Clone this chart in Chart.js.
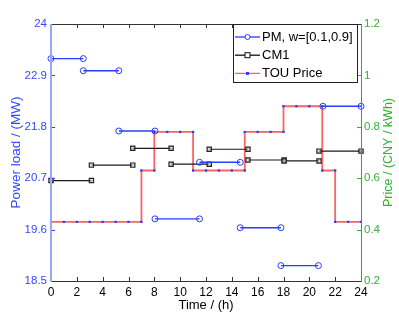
<!DOCTYPE html>
<html><head><meta charset="utf-8">
<script src="https://cdn.jsdelivr.net/npm/chart.js@4/dist/chart.umd.min.js"></script>
<style>html,body{margin:0;padding:0;background:#fff}#wrap{width:399px;height:316px}</style>
</head><body><div id="wrap"><canvas id="c" width="399" height="316"></canvas></div>
<script>
// ---- data ----
const hourTicks = [0,2,4,6,8,10,12,14,16,18,20,22,24];
const loadTicks = [18.5,19.6,20.7,21.8,22.9,24];
const priceTicks = [0.2,0.4,0.6,0.8,1,1.2];

const pmStart = [0, 2.5, 5.25, 8.05, 11.5, 14.65, 17.8, 21.05];
const pmEnd   = [2.5, 5.25, 8.05, 11.5, 14.65, 17.8, 20.7, 24];
const pmLoad  = [23.26, 23.0, 21.71, 19.83, 21.04, 19.64, 18.83, 22.24];

const cmStart = [0, 3.13, 6.33, 9.3, 12.25, 15.25, 18.05, 20.75];
const cmEnd   = [3.13, 6.33, 9.3, 12.25, 15.25, 18.05, 20.75, 24];
const cmLoad  = [20.65, 20.98, 21.34, 21.0, 21.32, 21.09, 21.07, 21.28];

const touHours = [0,1,2,3,4,5,6,7,7,8,8,9,10,11,11,12,13,14,15,15,16,17,18,18,19,20,21,21,22,22,23,24];
const touPrice = [0.43,0.43,0.43,0.43,0.43,0.43,0.43,0.43,0.63,0.63,0.78,0.78,0.78,0.78,0.63,0.63,0.63,0.63,0.63,0.78,0.78,0.78,0.78,0.88,0.88,0.88,0.88,0.63,0.63,0.43,0.43,0.43];

function segs(starts, ends, vals){
  const out = [];
  for (let i=0;i<starts.length;i++){
    out.push({x:starts[i], y:vals[i]});
    out.push({x:ends[i], y:vals[i]});
    out.push({x:ends[i], y:null});
  }
  return out;
}

const FONT = "'Liberation Sans', Arial, sans-serif";
const BLUE = '#2a3cff';
const BLUE_TXT = '#3347ff';
const GREEN = '#35b035';

const deco = {
  id:'deco',
  afterDraw(chart){
    const {ctx, chartArea:a, scales} = chart;
    ctx.save();
    // ticks
    ctx.lineWidth = 1;
    ctx.strokeStyle = '#333';
    hourTicks.forEach(h=>{
      const x = Math.round(scales.x.getPixelForValue(h))+0.5;
      ctx.beginPath(); ctx.moveTo(x,a.bottom); ctx.lineTo(x,a.bottom-4); ctx.stroke();
      ctx.beginPath(); ctx.moveTo(x,a.top); ctx.lineTo(x,a.top+4); ctx.stroke();
    });
    ctx.strokeStyle = BLUE;
    loadTicks.forEach(v=>{
      const y = Math.round(scales.y.getPixelForValue(v))+0.5;
      ctx.beginPath(); ctx.moveTo(a.left,y); ctx.lineTo(a.left+4,y); ctx.stroke();
    });
    ctx.strokeStyle = GREEN;
    priceTicks.forEach(v=>{
      const y = Math.round(scales.y2.getPixelForValue(v))+0.5;
      ctx.beginPath(); ctx.moveTo(a.right,y); ctx.lineTo(a.right-4,y); ctx.stroke();
    });
    // frame
    ctx.strokeStyle = '#333';
    ctx.beginPath(); ctx.moveTo(a.left,a.top+0.5); ctx.lineTo(a.right,a.top+0.5); ctx.stroke();
    ctx.beginPath(); ctx.moveTo(a.left,a.bottom+0.5); ctx.lineTo(a.right,a.bottom+0.5); ctx.stroke();
    ctx.strokeStyle = '#4c8f70';
    ctx.beginPath(); ctx.moveTo(a.right+0.5,a.top); ctx.lineTo(a.right+0.5,a.bottom+1); ctx.stroke();
    ctx.strokeStyle = '#98a6ff'; ctx.lineWidth = 2;
    ctx.beginPath(); ctx.moveTo(a.left,a.top); ctx.lineTo(a.left,a.bottom+1); ctx.stroke();

    // right axis title (reads bottom-to-top)
    ctx.save();
    ctx.translate(389, (a.top+a.bottom)/2);
    ctx.rotate(-Math.PI/2);
    ctx.fillStyle = GREEN;
    ctx.font = "12.5px " + FONT;
    ctx.textAlign='center'; ctx.textBaseline='middle';
    ctx.fillText('Price / (CNY / kWh)', 0, 0);
    ctx.restore();

    // legend
    const lx=233.5, ly=24.5, lw=124, lh=58;
    ctx.fillStyle='#fff'; ctx.fillRect(lx,ly,lw,lh);
    ctx.strokeStyle='#222'; ctx.lineWidth=1; ctx.strokeRect(lx,ly,lw,lh);
    const rows = [
      {t:'PM, w=[0.1,0.9]', c:BLUE, m:'circle'},
      {t:'CM1', c:'#111', m:'rect'},
      {t:'TOU Price', c:'rgba(255,70,70,0.85)', m:'dot'}
    ];
    rows.forEach((r,i)=>{
      const y = 37 + i*18.2;
      ctx.strokeStyle=r.c; ctx.lineWidth=1.3;
      ctx.beginPath(); ctx.moveTo(235,y); ctx.lineTo(260,y); ctx.stroke();
      if(r.m==='circle'){ ctx.strokeStyle=BLUE; ctx.lineWidth=1; ctx.beginPath(); ctx.arc(247.5,y,2.5,0,Math.PI*2); ctx.fillStyle='#fff'; ctx.fill(); ctx.stroke(); }
      if(r.m==='rect'){ ctx.strokeStyle='#111'; ctx.lineWidth=1; ctx.fillStyle='#fff'; ctx.fillRect(245,y-2.5,5,5); ctx.strokeRect(245,y-2.5,5,5); }
      if(r.m==='dot'){ ctx.fillStyle=BLUE; ctx.fillRect(246,y-1.5,3,3); }
      ctx.fillStyle='#000'; ctx.font='13px '+FONT; ctx.textAlign='left'; ctx.textBaseline='middle';
      ctx.fillText(r.t, 262, y+0.5);
    });
    ctx.restore();
  }
};

new Chart(document.getElementById('c'), {
  type:'scatter',
  data:{ datasets:[
    { label:'PM, w=[0.1,0.9]', data:segs(pmStart,pmEnd,pmLoad), yAxisID:'y', showLine:true, spanGaps:false,
      borderColor:BLUE, borderWidth:1.4, pointStyle:'circle', pointRadius:3, pointBorderWidth:1,
      pointBorderColor:BLUE, pointBackgroundColor:'rgba(255,255,255,0)', clip:8, order:1 },
    { label:'CM1', data:segs(cmStart,cmEnd,cmLoad), yAxisID:'y', showLine:true, spanGaps:false,
      borderColor:'#1a1a1a', borderWidth:1.2, pointStyle:'rect', pointRadius:3, pointBorderWidth:1.2,
      pointBorderColor:'#222', pointBackgroundColor:'rgba(200,200,200,0.6)', clip:8, order:2 },
    { label:'TOU Price', data:touHours.map((h,i)=>({x:h,y:touPrice[i]})), yAxisID:'y2', showLine:true,
      borderColor:'rgba(255,70,70,0.85)', borderWidth:1.8, pointStyle:'rect', pointRadius:1.6, pointBorderWidth:0,
      pointBackgroundColor:BLUE, clip:8, order:3 }
  ]},
  options:{
    responsive:false, animation:false, events:[],
    layout:{padding:{top:24,left:0,right:0,bottom:0}},
    plugins:{legend:{display:false}, tooltip:{enabled:false}},
    scales:{
      x:{ type:'linear', position:'bottom', min:0, max:24,
        afterFit(s){ s.height=35; },
        afterBuildTicks(s){ s.ticks = hourTicks.map(v=>({value:v})); },
        grid:{display:false, drawTicks:false}, border:{display:false},
        ticks:{ padding:4, color:'#000', font:{family:FONT, size:12}, maxRotation:0, autoSkip:false },
        title:{ display:true, text:'Time / (h)', color:'#000', font:{family:FONT,size:13}, padding:{top:0,bottom:3} } },
      y:{ type:'linear', position:'left', min:18.5, max:24,
        afterFit(s){ s.width=51; },
        afterBuildTicks(s){ s.ticks = loadTicks.map(v=>({value:v})); },
        grid:{display:false, drawTicks:false}, border:{display:false},
        ticks:{ padding:4, color:BLUE_TXT, font:{family:FONT, size:11.5}, callback:v=>String(v) },
        title:{ display:true, text:'Power load / (MW)', color:BLUE_TXT, font:{family:FONT,size:13.5}, padding:{top:8,bottom:0} } },
      y2:{ type:'linear', position:'right', min:0.2, max:1.2,
        afterFit(s){ s.width=38; },
        afterBuildTicks(s){ s.ticks = priceTicks.map(v=>({value:v})); },
        grid:{display:false, drawTicks:false}, border:{display:false},
        ticks:{ padding:3, color:GREEN, font:{family:FONT, size:11.5}, callback:v=>String(v) } }
    }
  },
  plugins:[deco]
});
</script></body></html>
